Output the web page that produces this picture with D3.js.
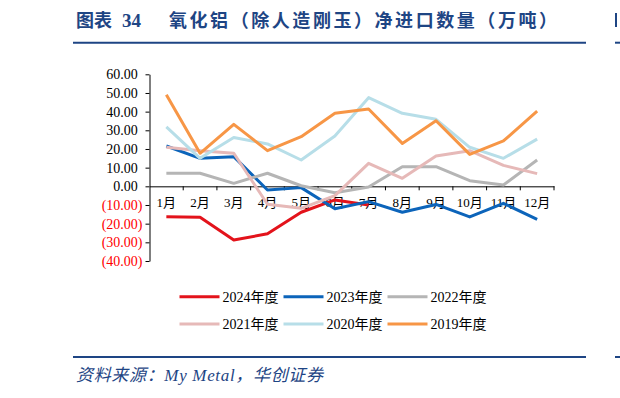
<!DOCTYPE html>
<html>
<head>
<meta charset="utf-8">
<script src="https://cdn.jsdelivr.net/npm/d3@7"></script>
<style>
  body { margin: 0; background: #fff; }
  svg { display: block; }
</style>
</head>
<body>
<div id="chart"></div>
<script>
const months = ["1月","2月","3月","4月","5月","6月","7月","8月","9月","10月","11月","12月"];
const seriesNames = ["2024年度","2023年度","2022年度","2021年度","2020年度","2019年度"];
const y2024 = [-16.3, -16.6, -28.8, -25.4, -13.9, -7.3, -10.0];
const y2023 = [21.6, 15.0, 15.9, -2.0, -0.7, -12.0, -8.2, -13.9, -9.7, -16.4, -9.1, -17.7];
const y2022 = [7.0, 7.0, 1.6, 7.0, 0.3, -3.4, -0.4, 10.5, 10.5, 3.0, 0.7, 14.1];
const y2021 = [20.9, 19.1, 17.7, -9.6, -11.8, -5.0, 12.3, 4.3, 16.2, 19.1, 11.2, 6.8];
const y2020 = [31.8, 15.0, 26.2, 22.7, 14.1, 26.9, 47.5, 39.1, 35.9, 20.9, 15.0, 25.3];
const y2019 = [49.0, 17.7, 33.2, 19.1, 26.6, 39.1, 41.4, 23.0, 35.1, 17.1, 24.3, 40.3];
const yTicks = [-40, -30, -20, -10, 0, 10, 20, 30, 40, 50, 60];

const colors = ["#E3131B", "#0C64BA", "#B5B5B5", "#E6B9B8", "#B7DEE8", "#F79646"];
const allSeries = [y2024, y2023, y2022, y2021, y2020, y2019];

const W = 620, H = 398;
const navy = "#1E4584";
const numFont = "'Liberation Serif', 'Noto Sans CJK SC', serif";
const titleFont = "'Noto Sans CJK SC', sans-serif";

const svg = d3.select("#chart").append("svg").attr("width", W).attr("height", H);

// title
svg.append("text").attr("x", 76).attr("y", 27)
  .attr("font-family", titleFont).attr("font-weight", "bold")
  .attr("font-size", 18).attr("fill", navy).text("图表");
svg.append("text").attr("x", 122).attr("y", 27)
  .attr("font-family", "'Liberation Serif', serif").attr("font-weight", "bold")
  .attr("font-size", 19).attr("fill", navy).text("34");
svg.append("text").attr("x", 169).attr("y", 27)
  .attr("font-family", titleFont).attr("font-weight", "bold")
  .attr("font-size", 18).attr("fill", navy)
  .attr("textLength", 388).attr("lengthAdjust", "spacing")
  .text("氧化铝（除人造刚玉）净进口数量（万吨）");
svg.append("rect").attr("x", 615).attr("y", 13).attr("width", 2).attr("height", 14).attr("fill", navy);

// rules
[42.7, 357].forEach(yy => {
  svg.append("line").attr("x1", 73).attr("x2", 586).attr("y1", yy).attr("y2", yy)
    .attr("stroke", navy).attr("stroke-width", 2);
  svg.append("line").attr("x1", 615).attr("x2", 620).attr("y1", yy).attr("y2", yy)
    .attr("stroke", navy).attr("stroke-width", 2);
});

// source
svg.append("text").attr("x", 76).attr("y", 381)
  .attr("font-family", numFont).attr("font-style", "italic")
  .attr("font-size", 17).attr("fill", navy)
  .attr("textLength", 247).attr("lengthAdjust", "spacing")
  .text("资料来源：My Metal，华创证券");

// scales
const x = d3.scaleBand().domain(months).range([149.5, 554]).padding(0);
const y = d3.scaleLinear().domain([-40, 60]).range([261, 74.3]);
const cx = m => x(m) + x.bandwidth() / 2;

const fmt = v => v < 0 ? "(" + Math.abs(v).toFixed(2) + ")" : v.toFixed(2);

const gy = svg.append("g").attr("transform", "translate(149.5,0)")
  .call(d3.axisLeft(y).tickValues(yTicks).tickSize(4).tickSizeOuter(0).tickPadding(3).tickFormat(fmt));
gy.select(".domain").attr("stroke", "#000");
gy.selectAll(".tick line").attr("stroke", "#000");
gy.selectAll(".tick text")
  .attr("font-family", numFont).attr("font-size", 14)
  .attr("dx", d => d < 0 ? 0 : -4.7)
  .attr("fill", d => d < 0 ? "#FF0000" : "#000");

// x axis at zero, ticks at band boundaries
const gx = svg.append("g").attr("transform", "translate(0," + y(0) + ")")
  .call(d3.axisBottom(x).tickSize(0).tickPadding(11));
gx.select(".domain").attr("stroke", "#000");
gx.selectAll(".tick text").attr("font-family", numFont).attr("font-size", 13).attr("fill", "#000");
gx.selectAll(".bound").data(months).join("line").attr("class", "bound")
  .attr("x1", d => x(d) + x.bandwidth()).attr("x2", d => x(d) + x.bandwidth())
  .attr("y1", 0).attr("y2", 4).attr("stroke", "#000");

// lines
const line = d3.line().x((d, i) => cx(months[i])).y(d => y(d));
svg.append("g").selectAll("path").data(allSeries).join("path")
  .attr("d", line).attr("fill", "none")
  .attr("stroke", (d, i) => colors[i]).attr("stroke-width", 3)
  .attr("stroke-linejoin", "round");

// legend
const lg = svg.append("g").selectAll("g").data(seriesNames).join("g")
  .attr("transform", (d, i) => "translate(" + (179.5 + (i % 3) * 104) + "," + (i < 3 ? 296.7 : 324) + ")");
lg.append("line").attr("x1", 0).attr("x2", 40).attr("stroke", (d, i) => colors[i]).attr("stroke-width", 3);
lg.append("text").attr("x", 43).attr("dy", "0.35em")
  .attr("font-family", numFont).attr("font-size", 14).attr("fill", "#000").text(d => d);
</script>
</body>
</html>
